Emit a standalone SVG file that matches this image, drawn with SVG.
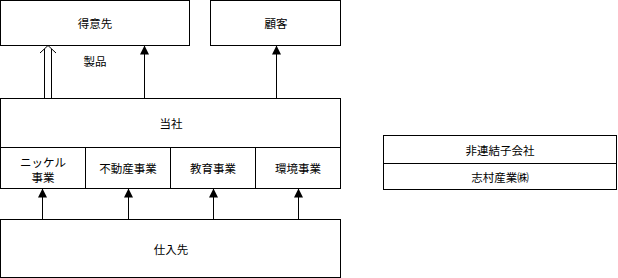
<svg xmlns="http://www.w3.org/2000/svg" width="618" height="278" viewBox="0 0 618 278">
<style>
.box{fill:#fff;stroke:#000;stroke-width:1}
.ln{fill:none;stroke:#000;stroke-width:1}
text{font-family:"Noto Sans CJK JP","Noto Sans",sans-serif;font-size:11.5px;fill:#000;text-anchor:middle;dominant-baseline:central}
</style>
<defs>
<marker id="tri" viewBox="0 0 10 10" refX="10" refY="5" markerWidth="9" markerHeight="9" markerUnits="userSpaceOnUse" orient="auto">
<path d="M0,0 L10,5 L0,10 Z" fill="#000"/>
</marker>
</defs>
<g id="tokuisaki"><rect class="box" x="0.5" y="0.5" width="189" height="45"/><text x="95" y="23">得意先</text></g>
<g id="kokyaku"><rect class="box" x="210.5" y="0.5" width="130" height="45"/><text x="276" y="23">顧客</text></g>
<g id="tousha"><rect class="box" x="0.5" y="98.5" width="340" height="49"/><text x="171" y="123">当社</text></g>
<g id="nickel"><rect class="box" x="0.5" y="147.5" width="85" height="41"/><text x="43" y="162">ニッケル</text><text x="43" y="177">事業</text></g>
<g id="fudousan"><rect class="box" x="85.5" y="147.5" width="85" height="41"/><text x="128" y="168">不動産事業</text></g>
<g id="kyouiku"><rect class="box" x="170.5" y="147.5" width="85" height="41"/><text x="213" y="168">教育事業</text></g>
<g id="kankyou"><rect class="box" x="255.5" y="147.5" width="85" height="41"/><text x="298" y="168">環境事業</text></g>
<g id="shiiresaki"><rect class="box" x="0.5" y="219.5" width="340" height="58"/><text x="171" y="249">仕入先</text></g>
<g id="hirenketsu"><rect class="box" x="383.5" y="135.5" width="233" height="28"/><text x="500" y="150">非連結子会社</text></g>
<g id="shimura"><rect class="box" x="383.5" y="163.5" width="233" height="26"/><text x="500" y="177">志村産業㈱</text></g>
<g id="connectors">
<line class="ln" x1="44.5" y1="98.5" x2="44.5" y2="49"/>
<line class="ln" x1="51.5" y1="98.5" x2="51.5" y2="49"/>
<path class="ln" d="M40,53 L48,45.5 L56,53" fill="#fff"/>
<text x="95" y="61">製品</text>
<line class="ln" x1="144.5" y1="98.5" x2="144.5" y2="45.5" marker-end="url(#tri)"/>
<line class="ln" x1="276.5" y1="98.5" x2="276.5" y2="45.5" marker-end="url(#tri)"/>
<line class="ln" x1="42.5" y1="219.5" x2="42.5" y2="188.5" marker-end="url(#tri)"/>
<line class="ln" x1="128.5" y1="219.5" x2="128.5" y2="188.5" marker-end="url(#tri)"/>
<line class="ln" x1="213.5" y1="219.5" x2="213.5" y2="188.5" marker-end="url(#tri)"/>
<line class="ln" x1="298.5" y1="219.5" x2="298.5" y2="188.5" marker-end="url(#tri)"/>
</g>
</svg>
